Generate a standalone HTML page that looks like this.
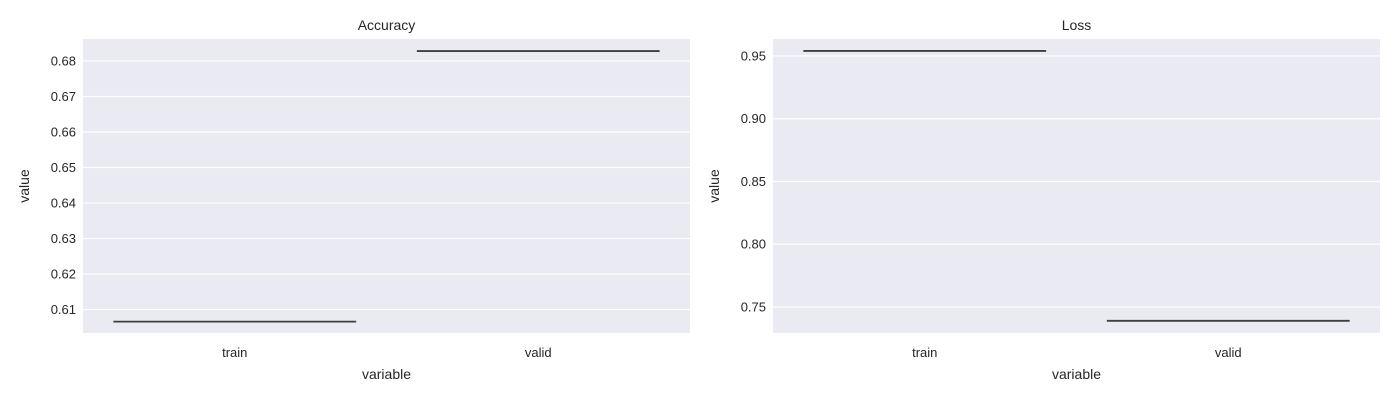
<!DOCTYPE html>
<html><head><meta charset="utf-8"><style>
body{margin:0;background:#fff;font-family:"Liberation Sans",Arial,sans-serif}
svg text{font-family:"Liberation Sans",Arial,sans-serif;fill:#262626}
</style></head><body>
<svg id="c" width="1400" height="400" xmlns="http://www.w3.org/2000/svg"></svg>
<script>
const categories=["train","valid"];
const accValues=[0.6066,0.6828];
const lossValues=[0.954,0.739];
const accTicks=[0.61,0.62,0.63,0.64,0.65,0.66,0.67,0.68];
const lossTicks=[0.75,0.80,0.85,0.90,0.95];
const NS="http://www.w3.org/2000/svg";
const svg=document.getElementById('c');
function mk(t,a,p){const e=document.createElementNS(NS,t);for(const k in a)e.setAttribute(k,a[k]);(p||svg).appendChild(e);return e;}
function panel(name,title,x0,x1,ymin,ymax,ticks,vals,dec){
  const top=39,bot=333;
  const g=mk('g',{});
  
  
  const y=v=>bot-(v-ymin)/(ymax-ymin)*(bot-top);
  const bw=(x1-x0)/categories.length;
  const x=i=>x0+bw*(i+0.5);
  const bg=mk('rect',{x:x0,y:top,width:x1-x0,height:bot-top,fill:'#eaeaf2'},g);
  
  
  ticks.forEach(t=>{
    const l=mk('line',{x1:x0,x2:x1,y1:y(t),y2:y(t),stroke:'#fff','stroke-width':1.2},g);
    
    
    const tx=mk('text',{x:x0-7,y:y(t)+4.5,'text-anchor':'end','font-size':13},g);
    tx.textContent=t.toFixed(dec);
    
    
  });
  categories.forEach((c,i)=>{
    const tx=mk('text',{x:x(i),y:357,'text-anchor':'middle','font-size':13},g);
    tx.textContent=c;
    
    
    const l=mk('line',{x1:x(i)-bw*0.4,x2:x(i)+bw*0.4,y1:y(vals[i]),y2:y(vals[i]),stroke:'#3f3f3f','stroke-width':1.8},g);
    
    
  });
  const tt=mk('text',{x:(x0+x1)/2,y:30,'text-anchor':'middle','font-size':14},g);
  tt.textContent=title;
  
  
  const xl=mk('text',{x:(x0+x1)/2,y:379,'text-anchor':'middle','font-size':14},g);
  xl.textContent='variable';
  
  
  const yl=mk('text',{x:0,y:0,'text-anchor':'middle','font-size':14,transform:`translate(${x0-54},${(top+bot)/2}) rotate(-90)`},g);
  yl.textContent='value';
  
  
}
panel('accuracy','Accuracy',83,690,0.6034,0.6862,accTicks,accValues,2);
panel('loss','Loss',773,1380,0.7293,0.9635,lossTicks,lossValues,2);
</script>
</body></html>
